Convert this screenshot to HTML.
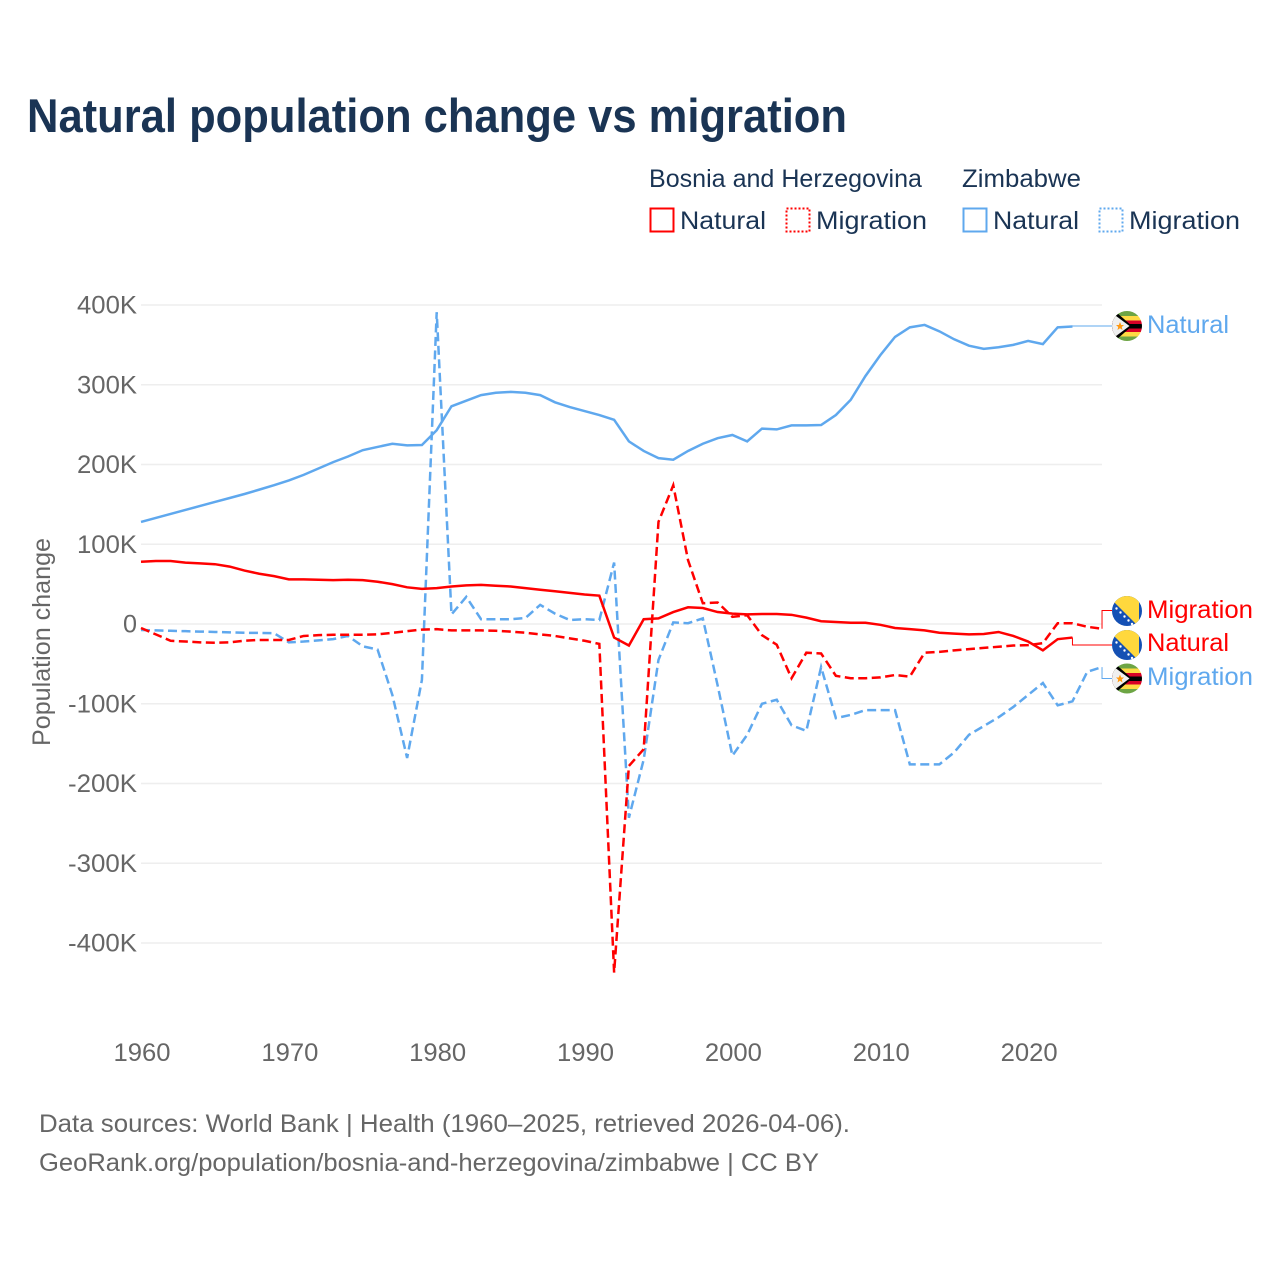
<!DOCTYPE html>
<html lang="en">
<head>
<meta charset="utf-8">
<title>Natural population change vs migration</title>
<style>
html,body{margin:0;padding:0;background:#fff;}
svg{display:block;font-family:"Liberation Sans",sans-serif;}
</style>
</head>
<body>
<svg id="chart" xmlns="http://www.w3.org/2000/svg" width="1280" height="1280" viewBox="0 0 1280 1280">
<defs>
<clipPath id="flag-clip"><circle cx="0" cy="0" r="15"/></clipPath>
<g id="flag-ba" clip-path="url(#flag-clip)">
<rect x="-15" y="-15" width="30" height="30" fill="#1450b4"/>
<polygon points="-14,-10 11,15 12,15 12,-15 -14,-15" fill="#ffd83d"/>
<g fill="#fff">
<circle cx="-10.5" cy="-2.5" r="1.2"/><circle cx="-6.5" cy="1.5" r="1.2"/><circle cx="-2.5" cy="5.5" r="1.2"/><circle cx="1.5" cy="9.5" r="1.2"/><circle cx="5" cy="13" r="1.2"/>
</g>
</g>
<g id="flag-zw" clip-path="url(#flag-clip)">
<rect x="-15" y="-15" width="30" height="30" fill="#f0f0f0"/>
<rect x="-15" y="-15" width="30" height="5" fill="#6da544"/>
<rect x="-15" y="-10" width="30" height="4.5" fill="#ffda44"/>
<rect x="-15" y="-5.5" width="30" height="3.5" fill="#d80027"/>
<rect x="-15" y="-2" width="30" height="4.5" fill="#000"/>
<rect x="-15" y="2.5" width="30" height="3.5" fill="#d80027"/>
<rect x="-15" y="6" width="30" height="4.5" fill="#ffda44"/>
<rect x="-15" y="10.5" width="30" height="4.5" fill="#6da544"/>
<polygon points="-11,-14 5,0 -11,14 -15,14 -15,-14" fill="#000"/>
<polygon points="-15,-13 2.5,0 -15,13" fill="#f0f0f0"/>
<polygon points="-7,-4 -5.8,-1 -3,-1 -5.2,1 -4.5,4 -7,2.3 -9.5,4 -8.8,1 -11,-1 -8.2,-1" fill="#ff9811"/>
</g>
</defs>

<text x="27" y="132" font-size="47" font-weight="700" fill="#1a3454" textLength="820" lengthAdjust="spacingAndGlyphs">Natural population change vs migration</text>

<g font-size="25" fill="#1a3454">
<text x="649" y="187" textLength="273" lengthAdjust="spacingAndGlyphs">Bosnia and Herzegovina</text>
<text x="962" y="187" textLength="119" lengthAdjust="spacingAndGlyphs">Zimbabwe</text>
<rect x="650.5" y="208.5" width="23" height="23" fill="none" stroke="#ff0000" stroke-width="2"/>
<text x="680" y="229" textLength="86" lengthAdjust="spacingAndGlyphs">Natural</text>
<rect x="786.5" y="208.5" width="23" height="23" fill="none" stroke="#ff0000" stroke-width="2" stroke-dasharray="2 2"/>
<text x="816" y="229" textLength="111" lengthAdjust="spacingAndGlyphs">Migration</text>
<rect x="963.5" y="208.5" width="23" height="23" fill="none" stroke="#5fa8ee" stroke-width="2"/>
<text x="993" y="229" textLength="86" lengthAdjust="spacingAndGlyphs">Natural</text>
<rect x="1099.5" y="208.5" width="23" height="23" fill="none" stroke="#5fa8ee" stroke-width="2" stroke-dasharray="2 2"/>
<text x="1129" y="229" textLength="111" lengthAdjust="spacingAndGlyphs">Migration</text>
</g>

<g id="grid"></g>
<g id="y-axis"></g>
<g id="x-axis"></g>
<text transform="translate(50,642) rotate(-90)" text-anchor="middle" font-size="25" fill="#666" textLength="208" lengthAdjust="spacingAndGlyphs">Population change</text>
<g id="series"></g>
<g id="connectors"></g>

<g font-size="25">
<use href="#flag-zw" x="1127" y="326"/>
<text x="1147" y="333" fill="#5fa8ee" textLength="82" lengthAdjust="spacingAndGlyphs">Natural</text>
<use href="#flag-ba" x="1127" y="611"/>
<text x="1147" y="618" fill="#ff0000" textLength="106" lengthAdjust="spacingAndGlyphs">Migration</text>
<use href="#flag-ba" x="1127" y="645"/>
<text x="1147" y="651" fill="#ff0000" textLength="82" lengthAdjust="spacingAndGlyphs">Natural</text>
<use href="#flag-zw" x="1127" y="678.5"/>
<text x="1147" y="685" fill="#5fa8ee" textLength="106" lengthAdjust="spacingAndGlyphs">Migration</text>
</g>

<g font-size="25" fill="#666">
<text x="39" y="1132" textLength="811" lengthAdjust="spacingAndGlyphs">Data sources: World Bank | Health (1960–2025, retrieved 2026-04-06).</text>
<text x="39" y="1171" textLength="780" lengthAdjust="spacingAndGlyphs">GeoRank.org/population/bosnia-and-herzegovina/zimbabwe | CC BY</text>
</g>
</svg>
<script>
const startYear = 1960;
const yTicks = [400, 300, 200, 100, 0, -100, -200, -300, -400];
const yTickLabels = ["400K", "300K", "200K", "100K", "0", "-100K", "-200K", "-300K", "-400K"];
const xTicks = [1960, 1970, 1980, 1990, 2000, 2010, 2020];
const zimbabweNatural = [128,133,138,143,148,153,158,163,168.5,174,180,187,195,203,210,218,222,226,224,224.5,243,273,280,287,290,291,290,287,278,272,267,262,256,229,217,208,206,217,226,233,237,229,245,244,249,249,249.5,262,281,311,337,360,372,375,367,357,349,345,347,350,355,351,372,373];
const bosniaNatural = [78,79,79,77,76,75,72,67,63,60,56,56,55.5,55,55.5,55,53,50,46,44,45,47,48.5,49,48,47,45,43,41,39,37,35.5,-17,-27,6,7,15,21,20,15,13,12,12.5,12.5,11.5,8,3.5,2.5,1.5,1.5,-1,-5,-6.5,-8,-11,-12,-13,-12.5,-10,-15,-22,-33,-19,-17];
const bosniaMigration = [-5,-13,-21,-22,-23,-23.5,-23,-21,-20,-20,-20,-15,-14,-13.5,-13.5,-13.5,-13,-11,-9,-7,-6.5,-8,-8,-8,-8.5,-9.5,-11,-13,-15,-18,-21,-25,-437,-178,-157,128,174,80,26,27,9,11,-14,-26,-68,-36,-37,-65,-68,-68,-67,-64,-66,-36,-35,-33,-31.5,-30,-28.5,-27,-26.5,-24,1,1,-3.5,-6];
const zimbabweMigration = [-7.5,-8,-8.5,-9,-9.5,-10,-10.5,-11,-11.2,-11.5,-23,-22,-20.5,-19,-15,-28,-32,-89,-168,-70,391,12,34,6,6,6,7.5,24,13,5,6,5,77,-243,-170,-45,2,1,7,-77,-165,-139,-100,-95,-127,-134,-54,-118,-114,-108,-108,-108,-176,-176,-176,-161,-139,-128,-117,-104,-89,-74,-102,-97,-60,-54];

const NS = "http://www.w3.org/2000/svg";
const RED = "#ff0000";
const BLUE = "#5fa8ee";
function xScale(year) { return 141 + (year - startYear) * 14.785; }
function yScale(v) { return 624 - v * 0.7975; }
function make(tag, attrs, parent) {
  const el = document.createElementNS(NS, tag);
  for (const k in attrs) el.setAttribute(k, attrs[k]);
  parent.appendChild(el);
  return el;
}
const grid = document.getElementById("grid");
const yAxis = document.getElementById("y-axis");
const xAxis = document.getElementById("x-axis");
const seriesGroup = document.getElementById("series");
const connectors = document.getElementById("connectors");

function tickWidth(label) {
  if (label.length === 1) return 14;
  return label.charAt(0) === "-" ? 69 : 60;
}

yTicks.forEach(function (t, i) {
  const y = yScale(t);
  const line = make("line", { x1: 141, x2: 1102, y1: y, y2: y, stroke: "#eeeeee", "stroke-width": 1.5 }, grid);
  
  
  const label = make("text", { x: 137, y: y + 8.5, "text-anchor": "end", "font-size": 25, fill: "#666", textLength: tickWidth(yTickLabels[i]), lengthAdjust: "spacingAndGlyphs" }, yAxis);
  
  
  label.textContent = yTickLabels[i];
});
xTicks.forEach(function (t) {
  const label = make("text", { x: xScale(t) + 1, y: 1061, "text-anchor": "middle", "font-size": 25, fill: "#666", textLength: 57, lengthAdjust: "spacingAndGlyphs" }, xAxis);
  
  
  label.textContent = t;
});

function drawSeries(values, color, dashed, name) {
  const pts = values.map(function (v, i) { return xScale(startYear + i).toFixed(2) + "," + yScale(v).toFixed(2); }).join(" ");
  const attrs = { points: pts, fill: "none", stroke: color, "stroke-width": 2.5, "stroke-linejoin": "miter" };
  if (dashed) attrs["stroke-dasharray"] = "9 4.5";
  const line = make("polyline", attrs, seriesGroup);
  
  
}
drawSeries(zimbabweNatural, BLUE, false, "line-zimbabwe-natural");
drawSeries(zimbabweMigration, BLUE, true, "line-zimbabwe-migration");
drawSeries(bosniaMigration, RED, true, "line-bosnia-migration");
drawSeries(bosniaNatural, RED, false, "line-bosnia-natural");

function drawConnector(values, color, targetY, name) {
  const i = values.length - 1;
  const x = xScale(startYear + i);
  const y = yScale(values[i]);
  const p = make("polyline", { points: x + "," + y + " " + x + "," + targetY + " 1112," + targetY, fill: "none", stroke: color, "stroke-width": 1 }, connectors);
  
  
}
drawConnector(zimbabweNatural, BLUE, 326, "connector-zimbabwe-natural");
drawConnector(bosniaMigration, RED, 610.5, "connector-bosnia-migration");
drawConnector(bosniaNatural, RED, 645, "connector-bosnia-natural");
drawConnector(zimbabweMigration, BLUE, 678.5, "connector-zimbabwe-migration");
</script>
</body>
</html>
